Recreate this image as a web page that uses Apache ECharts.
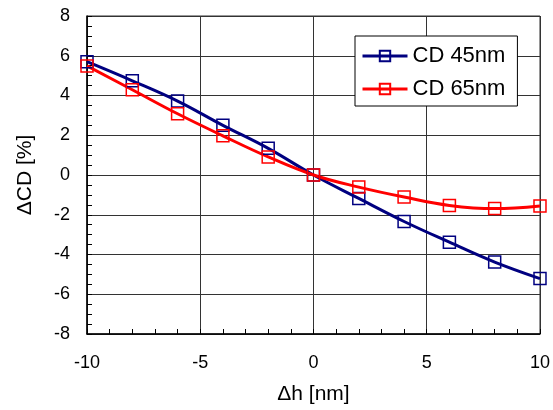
<!DOCTYPE html>
<html>
<head>
<meta charset="utf-8">
<script src="https://cdn.jsdelivr.net/npm/echarts@6/dist/echarts.min.js"></script>
<style>
  html, body { margin: 0; padding: 0; background: #fff; }
  #chart { width: 553px; height: 410px; }
</style>
</head>
<body>
<div id="chart"></div>
<script>
// Height change Δh [nm] and resulting CD change [%]
const dh = [-10, -8, -6, -4, -2, 0, 2, 4, 6, 8, 10];
const cd45 = [5.7, 4.74, 3.72, 2.50, 1.34, 0, -1.18, -2.34, -3.38, -4.38, -5.21];
const cd65 = [5.49, 4.29, 3.08, 1.97, 0.91, 0, -0.61, -1.11, -1.53, -1.69, -1.56];
const seriesNames = ['CD 45nm', 'CD 65nm'];
const xTicks = [-10, -5, 0, 5, 10];
const yTicks = [-8, -6, -4, -2, 0, 2, 4, 6, 8];

const FONT = '"Liberation Sans", Arial, sans-serif';
const pairs = (xs, ys) => xs.map((x, i) => [x, ys[i]]);

const chart = echarts.init(document.getElementById('chart'));

function mkSeries(name, values, color) {
  return {
    name: name,
    type: 'line',
    data: pairs(dh, values),
    smooth: 0.4,
    symbol: 'rect',
    symbolSize: 12,
    showAllSymbol: true,
    lineStyle: { color: color, width: 3 },
    itemStyle: { color: 'rgba(255,255,255,0)', borderColor: color, borderWidth: 1.5 },
    emphasis: { disabled: true },
    animation: false,
    z: 3
  };
}

chart.setOption({
  animation: false,
  backgroundColor: '#fff',
  grid: {
    left: 87, right: 12, top: 16, bottom: 73, containLabel: false,
    show: true, borderColor: '#333', borderWidth: 1, backgroundColor: 'transparent'
  },
  legend: {
    data: seriesNames,
    orient: 'vertical',
    left: 355,
    top: 36,
    itemWidth: 45,
    itemHeight: 13,
    itemGap: 11,
    padding: [9, 12, 6, 6],
    borderColor: '#000',
    borderWidth: 1,
    backgroundColor: '#fff',
    lineStyle: { width: 3 },
    textStyle: { fontFamily: FONT, fontSize: 22, color: '#000' }
  },
  xAxis: {
    type: 'value',
    min: xTicks[0],
    max: xTicks[xTicks.length - 1],
    interval: 5,
    name: 'Δh [nm]',
    nameLocation: 'middle',
    nameGap: 50,
    nameTextStyle: { fontFamily: FONT, fontSize: 21, color: '#000' },
    axisLine: { show: true, onZero: false, lineStyle: { color: '#000', width: 1.5 } },
    axisTick: { show: true, inside: true, length: 5, lineStyle: { color: '#000' } },
    minorTick: { show: true, splitNumber: 5, length: 5, lineStyle: { color: '#000' } },
    splitLine: { show: true, lineStyle: { color: '#333', width: 1 } },
    axisLabel: { fontFamily: FONT, fontSize: 18, color: '#000', margin: 20 }
  },
  yAxis: {
    type: 'value',
    min: yTicks[0],
    max: yTicks[yTicks.length - 1],
    interval: 2,
    name: 'ΔCD [%]',
    nameLocation: 'middle',
    nameGap: 51,
    nameTextStyle: { fontFamily: FONT, fontSize: 21, color: '#000' },
    axisLine: { show: true, onZero: false, lineStyle: { color: '#000', width: 1.5 } },
    axisTick: { show: true, inside: true, length: 5, lineStyle: { color: '#000' } },
    minorTick: { show: true, splitNumber: 4, length: 5, lineStyle: { color: '#000' } },
    splitLine: { show: true, lineStyle: { color: '#333', width: 1 } },
    axisLabel: { fontFamily: FONT, fontSize: 18, color: '#000', margin: 17 }
  },
  series: [
    mkSeries(seriesNames[0], cd45, '#000080'),
    mkSeries(seriesNames[1], cd65, '#ff0000')
  ]
});
</script>
</body>
</html>
